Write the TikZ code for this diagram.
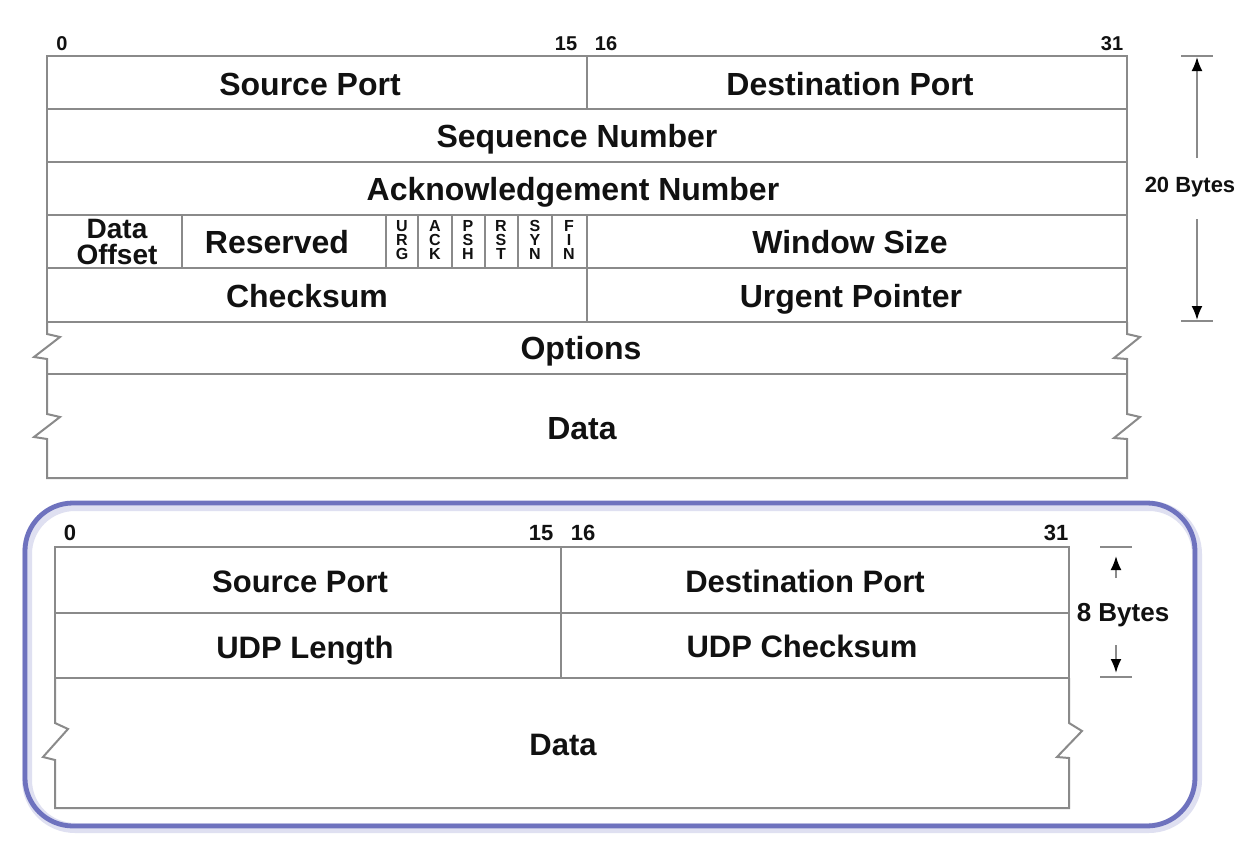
\documentclass[tikz,border=0pt]{standalone}
\usepackage{fontspec}
\setmainfont{Liberation Sans}
\usetikzlibrary{arrows.meta}
\definecolor{Rule}{HTML}{8A8A8A}
\definecolor{Ink}{HTML}{111111}
\definecolor{Frame}{HTML}{6E72BE}

\begin{document}
\begin{tikzpicture}[x=0.5pt,y=-0.5pt,
  grid/.style={draw=Rule,line width=1pt},
  field/.style={font=\fontsize{16}{18}\selectfont\bfseries,text=Ink,inner sep=0pt,text height=11.5pt,text depth=0pt},
  udpfield/.style={font=\fontsize{15.5}{18}\selectfont\bfseries,text=Ink,inner sep=0pt,text height=11.1pt,text depth=0pt},
  offset/.style={font=\fontsize{14}{13.2}\selectfont\bfseries,align=center,text=Ink,inner sep=0pt},
  flag/.style={font=\fontsize{8}{7}\selectfont\bfseries,align=center,text=Ink,inner sep=0pt},
  bitno/.style={font=\fontsize{10}{12}\selectfont\bfseries,text=Ink,inner sep=0pt},
  sizelbl/.style={font=\fontsize{11}{12}\selectfont\bfseries,text=Ink,inner sep=0pt},
  dimline/.style={draw=Rule,line width=1pt,-{Latex[length=7pt,width=5.5pt,color=black]}}
]
\useasboundingbox[fill=white] (0,0) rectangle (1244,851);

% TCP header
\draw[grid] (47,56) rectangle (1127,322);
\foreach \y in {109,162,215,268} {
  \draw[grid] (47,\y) -- (1127,\y);
}
\draw[grid] (587,56) -- (587,109);
\draw[grid] (587,215) -- (587,322);
\foreach \x in {182,386,418,452,485,518,552} {
  \draw[grid] (\x,215) -- (\x,268);
}
% options and data, broken edges
\draw[grid] (47,374) -- (1127,374);
\draw[grid] (47,322) -- (47,334) -- (60,337) -- (34,357) -- (47,359) -- (47,414) -- (60,417) -- (34,437) -- (47,439)
  -- (47,478) -- (1127,478) -- (1127,439) -- (1114,438) -- (1140,417) -- (1127,414) -- (1127,359) -- (1114,358)
  -- (1140,337) -- (1127,334) -- (1127,322);

\node[bitno] (t0) at (62,44) {0};
\node[bitno] (t15) at (566,44) {15};
\node[bitno] (t16) at (606,44) {16};
\node[bitno] (t31) at (1112,44) {31};

\node[field] (tsrc) at (310,84) {Source Port};
\node[field] (tdst) at (850,84) {Destination Port};
\node[field] (tseq) at (577,136) {Sequence Number};
\node[field] (tack) at (573,189) {Acknowledgement Number};
\node[offset] (toff) at (117,242) {Data\\Offset};
\node[field] (tres) at (277,242) {Reserved};
\foreach \f/\x in {{U\\R\\G}/402,{A\\C\\K}/435,{P\\S\\H}/468,{R\\S\\T}/501,{S\\Y\\N}/535,{F\\I\\N}/569} {
  \node[flag] (flag\x) at (\x,240) {\f};
}
\node[field] (twin) at (850,242) {Window Size};
\node[field] (tsum) at (307,296) {Checksum};
\node[field] (turg) at (851,296) {Urgent Pointer};
\node[field] (topt) at (581,348) {Options};
\node[field] (tdata) at (582,428) {Data};

% 20 bytes
\draw[grid] (1181,56) -- (1213,56);
\draw[grid] (1181,321) -- (1213,321);
\node[sizelbl] (tbytes) at (1190,187) {20 Bytes};
\coordinate (tTop) at (1197,57);
\coordinate (tBot) at (1197,320);
\coordinate (tUp) at (1197,158);
\coordinate (tDown) at (1197,219);
\draw[dimline] (tUp) -- (tTop);
\draw[dimline] (tDown) -- (tBot);

% UDP frame
\draw[Frame!22,line width=5pt,rounded corners=24pt] (27,506) rectangle (1197,828);
\draw[Frame,line width=2.4pt,rounded corners=24pt] (25,503) rectangle (1195,826);

% UDP header
\draw[grid] (55,547) rectangle (1069,678);
\draw[grid] (55,613) -- (1069,613);
\draw[grid] (561,547) -- (561,678);
\draw[grid] (55,678) -- (55,723) -- (68,729) -- (43,757) -- (55,760) -- (55,808) -- (1069,808)
  -- (1069,758) -- (1057,757) -- (1082,731) -- (1069,723) -- (1069,678);

\node[bitno,font=\fontsize{11}{12}\selectfont\bfseries] (u0) at (70,533) {0};
\node[bitno,font=\fontsize{11}{12}\selectfont\bfseries] (u15) at (541,533) {15};
\node[bitno,font=\fontsize{11}{12}\selectfont\bfseries] (u16) at (583,533) {16};
\node[bitno,font=\fontsize{11}{12}\selectfont\bfseries] (u31) at (1056,533) {31};

\node[udpfield] (usrc) at (300,581) {Source Port};
\node[udpfield] (udst) at (805,581) {Destination Port};
\node[udpfield] (ulen) at (305,647) {UDP Length};
\node[udpfield] (usum) at (802,646) {UDP Checksum};
\node[udpfield] (udata) at (563,744) {Data};

% 8 bytes
\draw[grid] (1100,547) -- (1132,547);
\draw[grid] (1100,677) -- (1132,677);
\node[sizelbl,font=\fontsize{13}{14}\selectfont\bfseries] (ubytes) at (1123,615) {8 Bytes};
\coordinate (uTop) at (1116,556);
\coordinate (uBot) at (1116,673);
\coordinate (uUp) at (1116,578);
\coordinate (uDown) at (1116,645);
\draw[dimline] (uUp) -- (uTop);
\draw[dimline] (uDown) -- (uBot);
\end{tikzpicture}
\end{document}
